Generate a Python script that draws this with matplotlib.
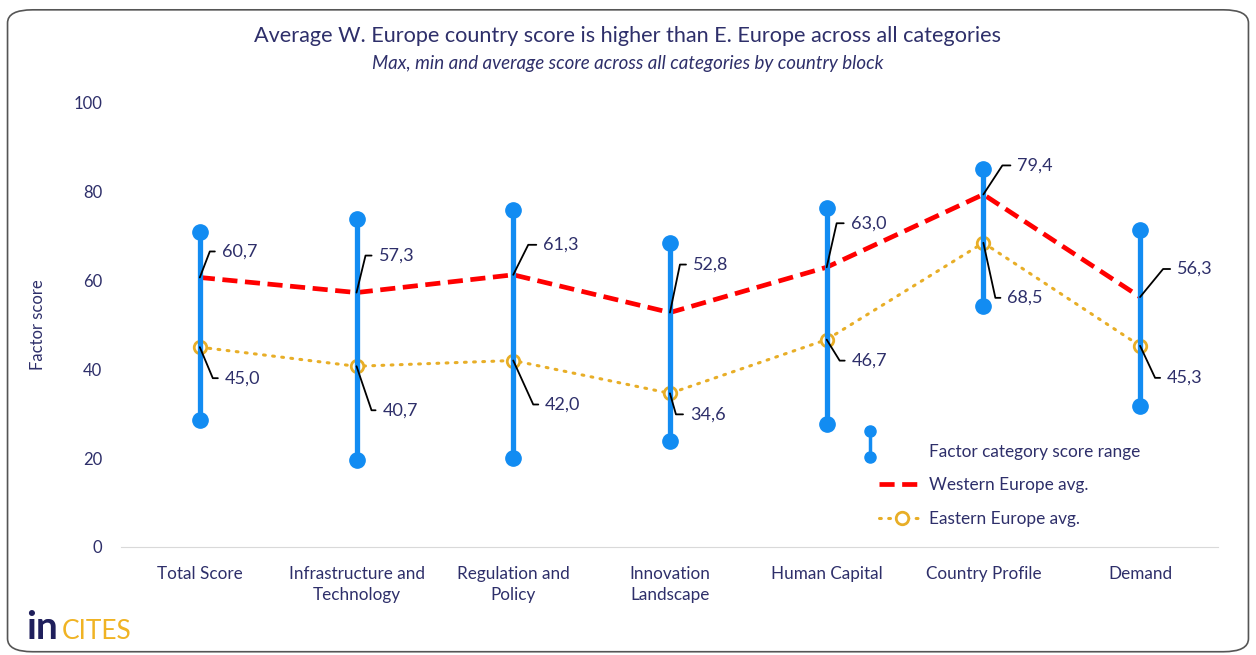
import math
import matplotlib.pyplot as plt
from matplotlib.lines import Line2D
from matplotlib.legend_handler import HandlerBase
from matplotlib.patches import FancyBboxPatch

plt.rcParams['font.family'] = ['Lato', 'DejaVu Sans']

categories = ["Total Score", "Infrastructure and\nTechnology", "Regulation and\nPolicy",
              "Innovation\nLandscape", "Human Capital", "Country Profile", "Demand"]
score_max = [70.9, 73.9, 75.9, 68.5, 76.4, 85.1, 71.4]
score_min = [28.6, 19.6, 20.0, 23.9, 27.7, 54.3, 31.8]
west_avg = [60.7, 57.3, 61.3, 52.8, 63.0, 79.4, 56.3]
east_avg = [45.0, 40.7, 42.0, 34.6, 46.7, 68.5, 45.3]

# label placement (pixels): corner of leader line, start of text
west_corner = [(10, 26), (9, 37), (15, 30), (10, 48), (10, 44), (19, 29), (23, 28)]
west_text = [22, 22, 30, 23, 24, 34, 37]
east_corner = [(13, -31), (15, -44), (20, -44), (6, -21), (13, -21), (12, -55), (15, -32)]
east_text = [25, 26, 32, 20, 25, 24, 27]

NAVY = '#2E2F6A'
RED = '#FF0000'
GOLD = '#E8AE27'
BLUE = '#128CF2'

fig = plt.figure(figsize=(12.56, 6.55), dpi=100)
ax = fig.add_axes([0.0967, 0.1649, 0.8734, 0.6779])

x = list(range(len(categories)))

ax.plot(x, west_avg, color=RED, lw=3.4, ls=(0, (3.2, 1.6)), zorder=3,
        label='Western Europe avg.')
ax.plot(x, east_avg, color=GOLD, lw=2.2, ls=(0, (0.6, 2.4)), dash_capstyle='round',
        marker='o', ms=9, mfc='white', mec=GOLD, mew=2, zorder=3,
        label='Eastern Europe avg.')
ax.vlines(x, score_min, score_max, color=BLUE, lw=3.8, zorder=5)
ax.plot(x, score_max, 'o', color=BLUE, ms=11, zorder=5)
ax.plot(x, score_min, 'o', color=BLUE, ms=11, zorder=5)


def fmt(v):
    return f"{v:.1f}".replace('.', ',')


def leader(i, v, corner, tx):
    cx, cy = corner[0] * 0.72, corner[1] * 0.72
    ang = math.degrees(math.atan2(cy, cx))
    ax.annotate(fmt(v), xy=(i, v), xytext=(tx * 0.72, cy), textcoords='offset points',
                ha='left', va='center', fontsize=13, color=NAVY, zorder=6,
                arrowprops=dict(arrowstyle='-', color='black', lw=1.3,
                                shrinkA=3, shrinkB=0, relpos=(0, 0.5),
                                connectionstyle=f"angle,angleA=0,angleB={ang},rad=0"))


for i in x:
    leader(i, west_avg[i], west_corner[i], west_text[i])
    leader(i, east_avg[i], east_corner[i], east_text[i])

ax.set_xlim(-0.5, len(categories) - 0.5)
ax.set_ylim(0, 100)
ax.set_yticks(range(0, 101, 20))
ax.set_xticks(x)
ax.set_xticklabels(categories, fontsize=12.3, color=NAVY, linespacing=1.35)
ax.tick_params(axis='y', length=0, pad=14, labelsize=12, labelcolor=NAVY)
ax.tick_params(axis='x', length=0, pad=14)
for s in ['top', 'right', 'left']:
    ax.spines[s].set_visible(False)
ax.spines['bottom'].set_color('#D9D9D9')
ax.set_ylabel('Factor score', fontsize=12, color=NAVY)
ax.yaxis.set_label_coords(-0.069, 0.5)


class RangeHandler(HandlerBase):
    def create_artists(self, legend, orig_handle, xdescent, ydescent,
                       width, height, fontsize, trans):
        xc = -xdescent - 7
        y0 = height / 2 - 4.5
        y1 = y0 + 19
        ln = Line2D([xc, xc], [y0, y1], color=BLUE, lw=2.5, transform=trans)
        dots = Line2D([xc, xc], [y0, y1], ls='none', marker='o', ms=8,
                      color=BLUE, transform=trans)
        return [ln, dots]


range_handle = Line2D([], [])
handles, labels = ax.get_legend_handles_labels()
leg = ax.legend([range_handle] + handles, ['Factor category score range'] + labels,
                handler_map={range_handle: RangeHandler()},
                loc='lower left', bbox_to_anchor=(0.691, 0.046), frameon=False,
                fontsize=12.4, handlelength=2.6, handletextpad=0.3,
                labelspacing=1.0, borderpad=0, borderaxespad=0)
for t in leg.get_texts():
    t.set_color(NAVY)

fig.text(0.5, 0.945, 'Average W. Europe country score is higher than E. Europe across all categories',
         ha='center', va='center', fontsize=15.6, color=NAVY)
fig.text(0.5, 0.903, 'Max, min and average score across all categories by country block',
         ha='center', va='center', fontsize=13.5, style='italic', color=NAVY)

fig.text(0.021, 0.024, 'in', ha='left', va='baseline', fontsize=28, weight='bold',
         color='#1F1F5C')
fig.text(0.049, 0.024, 'CITES', ha='left', va='baseline', fontsize=19, color='#F0B323')

fig.patches.append(FancyBboxPatch((0.006, 0.005), 0.988, 0.98,
                                  boxstyle='round,pad=0,rounding_size=0.02',
                                  transform=fig.transFigure, fill=False,
                                  edgecolor='#555555', lw=1.2, zorder=0))

fig.savefig('out.png', dpi=100)
